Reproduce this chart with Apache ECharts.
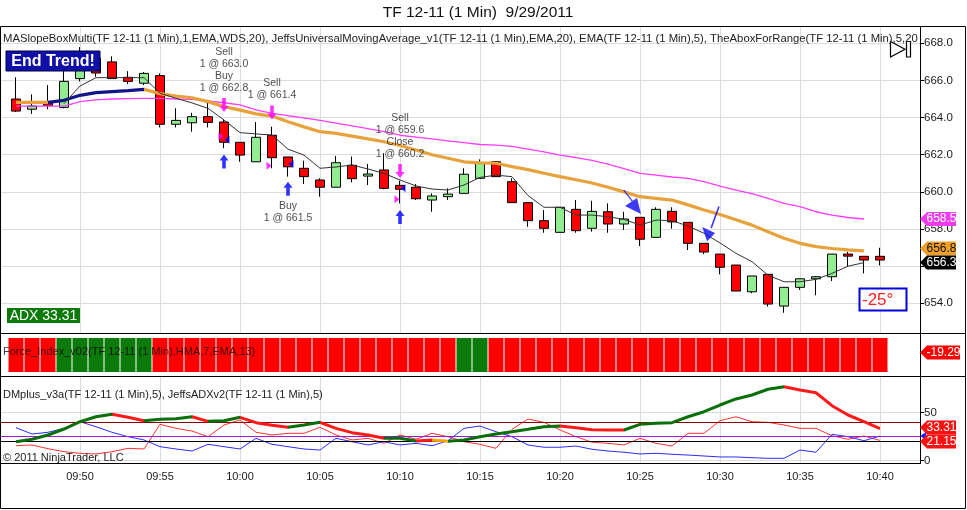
<!DOCTYPE html>
<html>
<head>
<meta charset="utf-8">
<script src="https://cdn.jsdelivr.net/npm/echarts@6.0.0/dist/echarts.min.js"></script>
<style>
html,body{margin:0;padding:0;background:#fff;}
#chart{width:967px;height:510px;}
</style>
</head>
<body>
<div id="chart"></div>
<script>
// ---------- DATA ----------
const times = ['09:46','09:47','09:48','09:49','09:50','09:51','09:52','09:53','09:54','09:55',
  '09:56','09:57','09:58','09:59','10:00','10:01','10:02','10:03','10:04','10:05',
  '10:06','10:07','10:08','10:09','10:10','10:11','10:12','10:13','10:14','10:15',
  '10:16','10:17','10:18','10:19','10:20','10:21','10:22','10:23','10:24','10:25',
  '10:26','10:27','10:28','10:29','10:30','10:31','10:32','10:33','10:34','10:35',
  '10:36','10:37','10:38','10:39','10:40'];
const opens = [665.0,664.45,664.82,664.55,666.1,667.2,667.0,666.17,665.85,666.26,
  663.64,663.72,664.05,663.76,662.67,661.62,663.05,661.88,661.27,660.64,
  660.25,661.43,660.85,661.18,660.35,660.25,659.56,659.74,659.92,660.73,
  661.62,660.55,659.42,658.45,657.82,659.06,658.04,658.93,658.27,658.63,
  657.55,658.95,658.36,657.23,656.65,656.06,654.62,655.56,653.85,654.86,
  655.32,655.43,656.65,656.53,656.53];
const closes = [664.35,664.62,664.66,665.95,667.1,666.4,666.1,665.95,666.38,663.64,
  663.85,664.05,663.74,662.67,661.98,662.94,661.84,661.35,660.82,660.25,
  661.57,660.71,660.96,660.19,660.14,659.63,659.78,659.88,660.95,661.54,
  660.82,659.42,658.45,658.04,659.17,657.91,658.95,658.27,658.54,657.45,
  659.06,658.38,657.23,656.76,655.94,654.66,655.47,653.96,654.86,655.32,
  655.43,656.65,656.54,656.33,656.33];
const lows = [664.3,664.2,664.45,664.5,665.95,666.2,666.08,665.8,665.75,663.47,
  663.47,663.24,663.47,662.35,661.62,661.62,661.27,660.82,660.42,659.74,
  660.25,660.51,660.37,660.14,659.38,659.56,658.93,659.56,659.92,660.73,
  660.82,659.42,658.12,657.8,657.82,657.8,657.86,657.8,657.95,657.08,
  657.55,658.02,656.87,656.65,655.56,654.66,654.54,653.82,653.49,654.72,
  654.43,655.2,656.0,655.61,656.04];
const highs = [666.17,665.25,665.75,666.5,667.8,667.45,667.3,666.5,666.45,666.38,
  664.5,664.26,664.8,663.92,662.67,663.76,663.51,661.88,661.68,660.73,
  661.93,661.9,661.5,662.08,660.6,660.42,659.92,660.19,661.27,661.75,
  661.66,660.73,659.42,659.02,659.17,659.56,659.52,659.38,658.93,658.63,
  659.17,659.17,658.36,657.23,656.65,656.06,655.47,655.56,654.86,655.32,
  655.47,656.65,656.78,656.53,656.99];
const ema5 = [null,null,null,664.75,665.7,666.15,666.15,666.15,666.15,665.31,
  665.04,664.79,664.5,663.87,663.19,663.12,663.06,662.3,661.98,661.27,
  661.34,661.45,661.23,661.0,660.64,660.32,660.15,660.1,660.37,660.78,
  660.9,660.82,659.8,659.17,659.17,658.75,658.75,658.66,658.52,658.21,
  658.48,658.45,658.16,657.77,657.25,656.69,656.24,655.52,655.16,655.16,
  655.29,655.61,656.0,656.19,null];
const juma20 = [664.82,664.82,664.82,664.93,665.2,665.34,665.4,665.45,665.52,665.29,
  665.16,665.07,664.86,664.59,664.4,664.2,664.08,663.78,663.5,663.24,
  663.15,663.0,662.85,662.7,662.5,662.25,662.0,661.81,661.62,661.56,
  661.54,661.36,661.2,661.0,660.82,660.65,660.48,660.25,660.0,659.74,
  659.65,659.56,659.3,659.02,658.78,658.5,658.21,657.85,657.5,657.23,
  657.05,656.95,656.88,656.82,null];
const ema20 = [664.62,664.62,664.62,664.62,664.86,664.95,665.0,665.02,665.04,665.03,
  665.0,664.98,664.9,664.8,664.68,664.41,664.23,664.1,663.98,663.85,
  663.7,663.55,663.4,663.25,663.05,662.95,662.85,662.75,662.65,662.55,
  662.52,662.45,662.3,662.15,661.98,661.85,661.7,661.5,661.25,661.0,
  660.9,660.8,660.73,660.55,660.31,660.1,659.9,659.65,659.38,659.2,
  658.93,658.75,658.62,658.54,null];
const forceSign = [-1,-1,-1,1,1,1,1,1,1,-1,
  -1,-1,-1,-1,-1,-1,-1,-1,-1,-1,
  -1,-1,-1,-1,-1,-1,-1,-1,1,1,
  -1,-1,-1,-1,-1,-1,-1,-1,-1,-1,
  -1,-1,-1,-1,-1,-1,-1,-1,-1,-1,
  -1,-1,-1,-1,-1];
const forceLast = -19.29;
const adx = [19.8,22.3,26.8,33,40.6,45.8,48.3,45.2,41.7,43.1,
  43.8,45.8,41,41.7,45.2,39.6,36.9,34.8,37.2,40,
  33.7,29.2,26.8,23.3,23.3,20.5,21.6,20.2,21.6,25,
  27.8,30.2,32.7,35.4,36.1,34.4,32.2,32,32,37.9,
  38.9,39.6,45.8,51,58,64.3,68.4,74.4,77.1,73.6,
  70.8,57.3,47.6,40.6,33.31];
const diMinus = [15.6,16.4,12.5,9.4,7.7,7,9.4,12.9,12.2,37.9,
  33.7,30.9,25,37.2,42.4,29.6,26.8,28.5,28.5,34.8,
  26.8,21.6,23.3,18.1,26.8,22.3,28.5,25,19.8,17.1,
  12.9,32.7,43.4,40,32,25,19.2,18.1,16.4,23.3,
  18.1,15.3,28.5,28.5,41.7,45.8,40.6,40,37.2,33.7,
  33.7,26,22.3,25.7,21.15];
const diPlus = [34.4,27.8,29.6,33.7,40.6,35.4,29.6,25,21.6,14.6,
  12.2,10.1,17.1,14.6,12.2,23.3,17.1,14.6,12.2,11.1,
  23.3,19.8,16.4,19.8,16.4,18.1,15.6,20.8,33.7,36.1,
  30.2,25,16.4,14,14,15.3,11.9,10.1,8.8,7,
  7.7,6.7,5.9,4.9,3.9,3.9,3.1,2.5,2.5,11.1,
  8.8,27.5,25,20.8,25.7];
// ADX segment trend colours (g = rising, r = falling, o = flat), one per segment
const adxSegColors = 'ggggggrrgggrggrrrggrrrrggroggggggg' + 'rrrrggggggggggrrrrrr';
const dmLevels = [40, 25, 20];
const sellExec = [['09:59',663.0],['10:02',661.4],['10:10',659.6]];
const buyExec = [['09:59',662.8],['10:03',661.5],['10:10',660.2]];
const sellArrows = [['09:59',664.68,'Sell\n1 @ 663.0\nBuy\n1 @ 662.8'],['10:02',664.27,'Sell\n1 @ 661.4'],['10:10',661.12,'Sell\n1 @ 659.6\nClose\n1 @ 660.2']];
const buyArrows = [['09:59',661.64,''],['10:03',660.17,'Buy\n1 @ 661.5'],['10:10',658.65,'']];
const signalArrows = [['10:25',659.45],['10:29',658.29]];
const slopeText = '-25°';
const titleText = 'TF 12-11 (1 Min)  9/29/2011';
const headerText = 'MASlopeBoxMulti(TF 12-11 (1 Min),1,EMA,WDS,20), JeffsUniversalMovingAverage_v1(TF 12-11 (1 Min),EMA,20), EMA(TF 12-11 (1 Min),5), TheAboxForRange(TF 12-11 (1 Min),5,20,25)';
const forceText = 'Force_Index_v02(TF 12-11 (1 Min),HMA,7,EMA,13)';
const dmText = 'DMplus_v3a(TF 12-11 (1 Min),5), JeffsADXv2(TF 12-11 (1 Min),5)';
const copyText = '\u00a9 2011 NinjaTrader, LLC';

// ---------- helpers ----------
const FF = 'Arial, "Liberation Sans", Helvetica, sans-serif';
const tx = t => { const p = t.split(':').map(Number); return p[0]*60 + p[1] - 540; };
const fmtT = v => { const t = Math.round(v) + 540; const h = Math.floor(t/60), m = t % 60; return String(h).padStart(2,'0') + ':' + String(m).padStart(2,'0'); };
const pairs = arr => times.map((t,i) => [tx(t), arr[i]]);

const GRID_W = 920;
const xBase = (gi, extra) => Object.assign({
  type:'value', gridIndex:gi, min:45, max:102.5, interval:5,
  axisLine:{show:false}, axisTick:{show:false}, axisLabel:{show:false}, splitLine:{show:false}
}, extra || {});

const segCol = {g:'#0a6e0a', r:'#ff1a1a', o:'#ffa500'};
const adxPieces = [];
for (let i = 0; i < times.length - 1; i++) {
  const p = {gte: tx(times[i]), color: segCol[adxSegColors[i]]};
  if (i < times.length - 2) p.lt = tx(times[i+1]); else p.lte = tx(times[i+1]);
  adxPieces.push(p);
}

const chart = echarts.init(document.getElementById('chart'), null, {renderer:'canvas'});

const option = {
  backgroundColor:'#fff',
  animation:false,
  textStyle:{fontFamily:FF},
  grid:[
    {left:0, top:27, width:GRID_W, height:313.44},   // price
    {left:0, top:338, width:GRID_W, height:34},      // force index
    {left:0, top:376.2, width:GRID_W, height:84.5},  // DM / ADX
    {left:0, top:27, width:GRID_W, height:306},      // price panel vertical grid
    {left:0, top:376, width:GRID_W, height:88}       // DM panel vertical grid + time labels
  ],
  xAxis:[
    xBase(0), xBase(1), xBase(2),
    xBase(3, {splitLine:{show:true, showMinLine:false, showMaxLine:false, lineStyle:{color:'#dcdcdc', width:1}}}),
    xBase(4, {splitLine:{show:true, showMinLine:false, showMaxLine:false, lineStyle:{color:'#dcdcdc', width:1}},
      axisLabel:{show:true, formatter:fmtT, showMinLabel:false, showMaxLabel:false, fontSize:11, color:'#1a1a1a', margin:7, fontFamily:FF}})
  ],
  yAxis:[
    {type:'value', gridIndex:0, position:'right', min:652, max:668.878, interval:2,
      axisLine:{show:false}, axisTick:{show:true, length:4, lineStyle:{color:'#000'}},
      axisLabel:{formatter:v => v.toFixed(1), showMinLabel:false, showMaxLabel:false, fontSize:11.5, color:'#1a1a1a', margin:4, fontFamily:FF},
      splitLine:{show:true, showMinLine:false, showMaxLine:false, lineStyle:{color:'#dcdcdc', width:1}}},
    {type:'value', gridIndex:1, min:0, max:1, show:false},
    {type:'value', gridIndex:2, position:'right', min:0, max:88.02, interval:50,
      axisLine:{show:false}, axisTick:{show:true, length:4, lineStyle:{color:'#000'}},
      axisLabel:{showMaxLabel:false, fontSize:11.5, color:'#1a1a1a', margin:4, fontFamily:FF},
      splitLine:{show:true, showMaxLine:false, lineStyle:{color:'#dcdcdc', width:1}}},
    {type:'value', gridIndex:3, min:0, max:1, show:false},
    {type:'value', gridIndex:4, min:0, max:1, show:false}
  ],
  visualMap:[
    {type:'piecewise', show:false, seriesIndex:2, dimension:0,
      pieces:[{lt:48, color:'#e8a23c'}, {gte:48, lt:54, color:'#14148a'}, {gte:54, color:'#e8a23c'}]},
    {type:'piecewise', show:false, seriesIndex:9, dimension:0, pieces:adxPieces}
  ],
  series:[
    { // 0 candles
      type:'candlestick', xAxisIndex:0, yAxisIndex:0, barWidth:10,
      encode:{x:0, y:[1,2,3,4]},
      data: times.map((t,i) => [tx(t), opens[i], closes[i], lows[i], highs[i]]),
      itemStyle:{color:'#90ee90', color0:'#ff0000', borderColor:'#000', borderColor0:'#000', borderWidth:1}
    },
    { // 1 magenta EMA(20)
      type:'line', xAxisIndex:0, yAxisIndex:0, data:pairs(ema20), showSymbol:false, symbol:'none',
      lineStyle:{color:'#ff3cff', width:1.3}
    },
    { // 2 thick Jeffs universal MA (slope coloured)
      type:'line', xAxisIndex:0, yAxisIndex:0, data:pairs(juma20), showSymbol:false, symbol:'none',
      lineStyle:{width:3.2}
    },
    { // 3 black EMA(5)
      type:'line', xAxisIndex:0, yAxisIndex:0, data:pairs(ema5), showSymbol:false, symbol:'none',
      lineStyle:{color:'#333', width:1}
    },
    { // 4 sell executions
      type:'scatter', xAxisIndex:0, yAxisIndex:0, symbol:'triangle', symbolRotate:-90, symbolSize:[8,5], symbolOffset:[-3,0],
      itemStyle:{color:'#ff00ff'}, data: sellExec.map(e => [tx(e[0]), e[1]]), z:4
    },
    { // 5 buy executions
      type:'scatter', xAxisIndex:0, yAxisIndex:0, symbol:'triangle', symbolRotate:90, symbolSize:[8,5], symbolOffset:[3,0],
      itemStyle:{color:'#0000ff'}, data: buyExec.map(e => [tx(e[0]), e[1]]), z:4
    },
    { // 6 sell arrows
      type:'scatter', xAxisIndex:0, yAxisIndex:0, symbol:'path://M3,0L7,0L7,8L10,8L5,14L0,8L3,8Z', symbolSize:[9,14],
      itemStyle:{color:'#ff00ff'}, z:4,
      label:{position:'top', distance:4, fontSize:10.5, lineHeight:12, color:'#222', align:'center', fontFamily:FF},
      data: sellArrows.map(a => ({value:[tx(a[0]), a[1]], label:{show:!!a[2], formatter:a[2]}}))
    },
    { // 7 buy arrows
      type:'scatter', xAxisIndex:0, yAxisIndex:0, symbol:'path://M5,0L10,6L7,6L7,14L3,14L3,6L0,6Z', symbolSize:[9,14],
      itemStyle:{color:'#0000ff'}, z:4,
      label:{position:'bottom', distance:4, fontSize:10.5, lineHeight:12, color:'#222', align:'center', fontFamily:FF},
      data: buyArrows.map(a => ({value:[tx(a[0]), a[1]], label:{show:!!a[2], formatter:a[2]}}))
    },
    { // 8 slope signal arrows
      type:'scatter', xAxisIndex:0, yAxisIndex:0, itemStyle:{color:'#0a0af0'}, z:4,
      data:[
        {value:[tx(signalArrows[0][0]), signalArrows[0][1]], symbol:'path://M1,0L2.5,0L17,19L15.5,19ZM3,16L15,8L19,24Z', symbolSize:[18,24], symbolOffset:[-8,0]},
        {value:[tx(signalArrows[1][0]), signalArrows[1][1]], symbol:'path://M16,0L17.5,0.5L10,22L8.5,21.5ZM0.7,20.7L13,26.7L5.3,34.7Z', symbolSize:[17.5,35], symbolOffset:[7,0]}
      ]
    },
    { // 9 ADX
      type:'line', xAxisIndex:2, yAxisIndex:2, data:pairs(adx), showSymbol:false, symbol:'none',
      lineStyle:{width:3}, z:5
    },
    { // 10 DI-
      type:'line', xAxisIndex:2, yAxisIndex:2, data:pairs(diMinus), showSymbol:false, symbol:'none',
      lineStyle:{color:'#ff3030', width:1}, z:4
    },
    { // 11 DI+
      type:'line', xAxisIndex:2, yAxisIndex:2, data:pairs(diPlus), showSymbol:false, symbol:'none',
      lineStyle:{color:'#2c2cff', width:1}, z:4,
      markLine:{silent:true, symbol:'none', label:{show:false},
        data:[
          {yAxis:dmLevels[0], lineStyle:{color:'#8b0000', width:1, type:'solid'}},
          {yAxis:dmLevels[1], lineStyle:{color:'#9a1ad6', width:1, type:'solid'}},
          {yAxis:dmLevels[2], lineStyle:{color:'#000', width:1, type:'solid'}}
        ]}
    },
    { // 12 force index blocks
      type:'bar', xAxisIndex:1, yAxisIndex:1, barWidth:15,
      data: times.map((t,i) => ({value:[tx(t), Math.abs(forceSign[i])], itemStyle:{color: forceSign[i] > 0 ? '#0a7a0a' : '#ff0000'}}))
    }
  ]
};
chart.setOption(option);

// ---------- overlays (text, frames, value tags) ----------
const G = [];
const Z = 100;
function text(x, y, s, font, fill, align, valign, extra) {
  G.push({type:'text', z:Z+2, silent:true, style:Object.assign({text:s, x, y, font, fill,
    align:align||'left', verticalAlign:valign||'middle', textAlign:align||'left', textVerticalAlign:valign||'middle'}, extra||{})});
}
function line(x1,y1,x2,y2,color,w) { G.push({type:'line', z:Z, silent:true, shape:{x1,y1,x2,y2}, style:{stroke:color, lineWidth:w||1}}); }
function rect(x,y,w,h,fill,stroke,lw,z) { G.push({type:'rect', z:z||Z+1, silent:true, shape:{x,y,width:w,height:h}, style:{fill:fill, stroke:stroke||null, lineWidth:lw||0}}); }
function tag(yc, s, fill, color, w) {
  w = w || 36;
  G.push({type:'polygon', z:Z+3, silent:true, shape:{points:[[920,yc],[927,yc-7],[920+w,yc-7],[920+w,yc+7],[927,yc+7]]}, style:{fill}});
  G.push({type:'text', z:Z+4, silent:true, style:{text:s, x:923.5 + w/2, y:yc, font:'12px ' + FF, fill:color,
    align:'center', verticalAlign:'middle', textAlign:'center', textVerticalAlign:'middle'}});
}

// frames
rect(0.5, 26.5, 965, 482, 'none', '#000', 1, Z);
line(0, 333.5, 966, 333.5, '#000', 1);
line(0, 376.5, 966, 376.5, '#000', 1);
line(0, 463.5, 920.5, 463.5, '#000', 1);
line(920.5, 27, 920.5, 464, '#000', 1);

// texts
text(478, 13, titleText, '15.5px ' + FF, '#111', 'center', 'middle');
text(3, 39, headerText, '11.3px ' + FF, '#222', 'left', 'middle', {width:916, overflow:'truncate', ellipsis:''});
text(3, 352, forceText, '11px ' + FF, 'rgba(20,0,0,0.8)', 'left', 'middle');
text(3, 395, dmText, '11px ' + FF, '#222', 'left', 'middle');
text(3, 458, copyText, '11px ' + FF, '#222', 'left', 'middle');

// End Trend box
rect(6, 51, 94, 20, '#1010a8', '#000040', 1);
text(53, 61.5, 'End Trend!', 'bold 16px ' + FF, '#fff', 'center', 'middle');

// ADX box
rect(7, 308, 73, 15, '#0b7a0b');
text(43.5, 315.8, 'ADX ' + adx[adx.length-1].toFixed(2), '14px ' + FF, '#fff', 'center', 'middle');

// slope box
rect(859.5, 288.5, 47, 22, '#fff', '#0000dd', 2);
text(862, 300, slopeText, '17px ' + FF, '#ff2020', 'left', 'middle');

// play icon
G.push({type:'polygon', z:Z+1, silent:true, shape:{points:[[890.5,41.5],[905,49.3],[890.5,57]]}, style:{fill:'#fff', stroke:'#000', lineWidth:1.2}});
rect(906.5, 41.5, 4, 15.5, '#fff', '#000', 1.2);

// value tags (positions through the axis scales)
const yP = v => chart.convertToPixel({yAxisIndex:0}, v);
const yD = v => chart.convertToPixel({yAxisIndex:2}, v);
function spread(a, b) { if (b.y - a.y < 14) { const m = (a.y + b.y)/2; a.y = m - 7; b.y = m + 7; } }
const last = arr => { for (let i = arr.length-1; i >= 0; i--) if (arr[i] != null) return arr[i]; };
const tMag = {y:yP(last(ema20)), v:last(ema20)};
const tOra = {y:yP(last(juma20)), v:last(juma20)};
const tCls = {y:yP(closes[closes.length-1]), v:closes[closes.length-1]};
spread(tOra, tCls);
tag(tMag.y, tMag.v.toFixed(1), '#f03cf0', '#fff');
tag(tOra.y, tOra.v.toFixed(1), '#f0a028', '#111');
tag(tCls.y, tCls.v.toFixed(1), '#000', '#fff');
tag(352.5, forceLast.toFixed(2), '#ff0000', '#fff', 40);
// DI+ marker
const ydp = yD(diPlus[diPlus.length-1]);
G.push({type:'polygon', z:Z+2, silent:true, shape:{points:[[920,ydp],[926,ydp-4],[926,ydp+4]]}, style:{fill:'#2020ff'}});
const tAdx = {y:yD(adx[adx.length-1]), v:adx[adx.length-1]};
const tDim = {y:yD(diMinus[diMinus.length-1]), v:diMinus[diMinus.length-1]};
spread(tAdx, tDim);
tag(tAdx.y, tAdx.v.toFixed(2), '#ff1010', '#fff');
tag(tDim.y, tDim.v.toFixed(2), '#ff1010', '#fff');

chart.setOption({graphic:{elements:G}});
</script>
</body>
</html>
